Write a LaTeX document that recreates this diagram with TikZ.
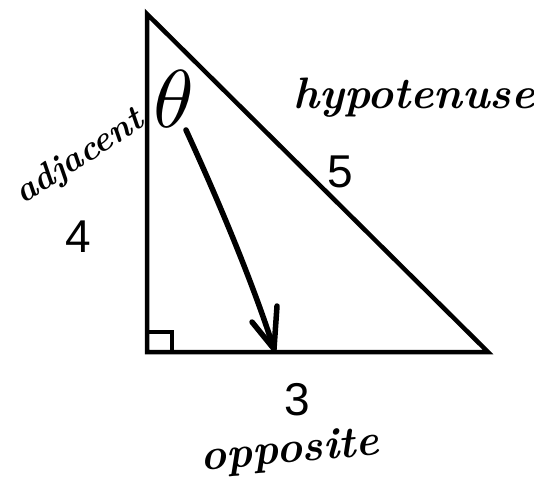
\documentclass[tikz,border=0pt]{standalone}
\usepackage{fontspec}
\newfontfamily\numfont{Liberation Sans}
\begin{document}
\begin{tikzpicture}[x=1pt,y=-1pt,
  edge/.style={line width=4.5pt},
  num/.style={font=\numfont\fontsize{46}{46}\selectfont, inner sep=0pt},
  hand/.style={font=\bfseries\itshape\fontsize{#1}{#1}\selectfont, inner sep=0pt},
  pen/.style={line width=5.5pt, line cap=round, line join=round}]
\useasboundingbox (0,0) rectangle (534,492);
\coordinate (T) at (147,14);
\coordinate (B) at (147,352);
\coordinate (R) at (488,352);
\draw[edge, line join=miter] (T) -- (B) -- (R) -- cycle;
\draw[line width=3.5pt] (147,332) -- (172,332) -- (172,352);
\node[inner sep=0pt, scale=8.2] (theta) at (174,99) {$\theta$};
\coordinate (As) at (186,130);
\coordinate (Ae) at (274,349);
\draw[pen] (As) .. controls (225,215) and (255,290) .. (Ae);
\coordinate (H1) at (252,322);
\coordinate (H2) at (277,306);
\draw[pen] (H1) -- (Ae) -- (H2);
\node[num] (five) at (340,172) {5};
\node[num] (four) at (78,237) {4};
\node[num] (three) at (297,400) {3};
\node[hand=44] (hyp) at (414,98) {hypotenuse};
\node[hand=35, rotate=33] (adj) at (80,158) {adjacent};
\node[hand=44, rotate=5] (opp) at (290,452) {opposite};
\end{tikzpicture}
\end{document}
